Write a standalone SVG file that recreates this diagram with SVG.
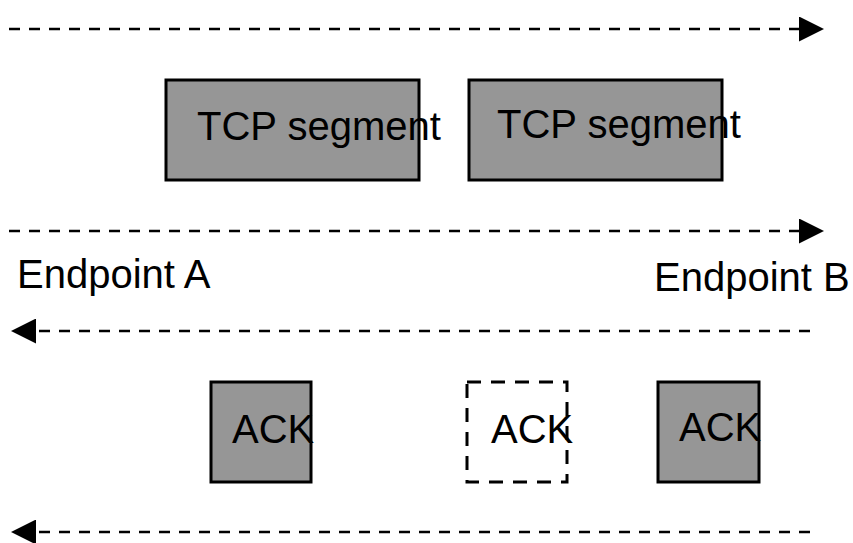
<svg xmlns="http://www.w3.org/2000/svg" width="853" height="543" viewBox="0 0 853 543">
  <style>
    .bg { fill: #ffffff; }
    .flow { fill: none; stroke: #000; stroke-width: 2.5; stroke-dasharray: 11 9; }
    .box { fill: #969696; stroke: #000; stroke-width: 3; }
    .lost { fill: none; stroke: #000; stroke-width: 3; stroke-dasharray: 14 10; }
    .lbl { font-family: "Liberation Sans", Arial, sans-serif; font-size: 40px; fill: #000; }
    .ep { font-family: "Liberation Sans", Arial, sans-serif; font-size: 40px; fill: #000; }
  </style>
  <defs>
    <marker id="head" markerUnits="userSpaceOnUse" markerWidth="25" markerHeight="25" refX="25" refY="12.5" orient="auto">
      <path d="M0,0 L25,12.5 L0,25 Z" fill="#000"/>
    </marker>
  </defs>
  <rect class="bg" x="0" y="0" width="853" height="543"/>
  <g id="connectors">
    <line class="flow" x1="9" y1="29" x2="824" y2="29" marker-end="url(#head)"/>
    <line class="flow" x1="9" y1="231" x2="824" y2="231" marker-end="url(#head)"/>
    <line class="flow" x1="810" y1="331" x2="11" y2="331" marker-end="url(#head)"/>
    <line class="flow" x1="810" y1="532" x2="11" y2="532" marker-end="url(#head)"/>
  </g>
  <g id="seg1">
    <rect class="box" x="166" y="80" width="253" height="100"/>
    <text class="lbl" x="197" y="140">TCP segment</text>
  </g>
  <g id="seg2">
    <rect class="box" x="469" y="80" width="253" height="100"/>
    <text class="lbl" x="497" y="138">TCP segment</text>
  </g>
  <g id="endpointA">
    <text class="ep" x="17" y="288">Endpoint A</text>
  </g>
  <g id="endpointB">
    <text class="ep" x="654" y="291">Endpoint B</text>
  </g>
  <g id="ack1">
    <rect class="box" x="211" y="382" width="100" height="100"/>
    <text class="lbl" x="232" y="443">ACK</text>
  </g>
  <g id="ack2">
    <rect class="lost" x="467" y="382" width="100" height="100"/>
    <text class="lbl" x="491" y="443">ACK</text>
  </g>
  <g id="ack3">
    <rect class="box" x="658" y="382" width="101" height="100"/>
    <text class="lbl" x="679" y="441">ACK</text>
  </g>
</svg>
